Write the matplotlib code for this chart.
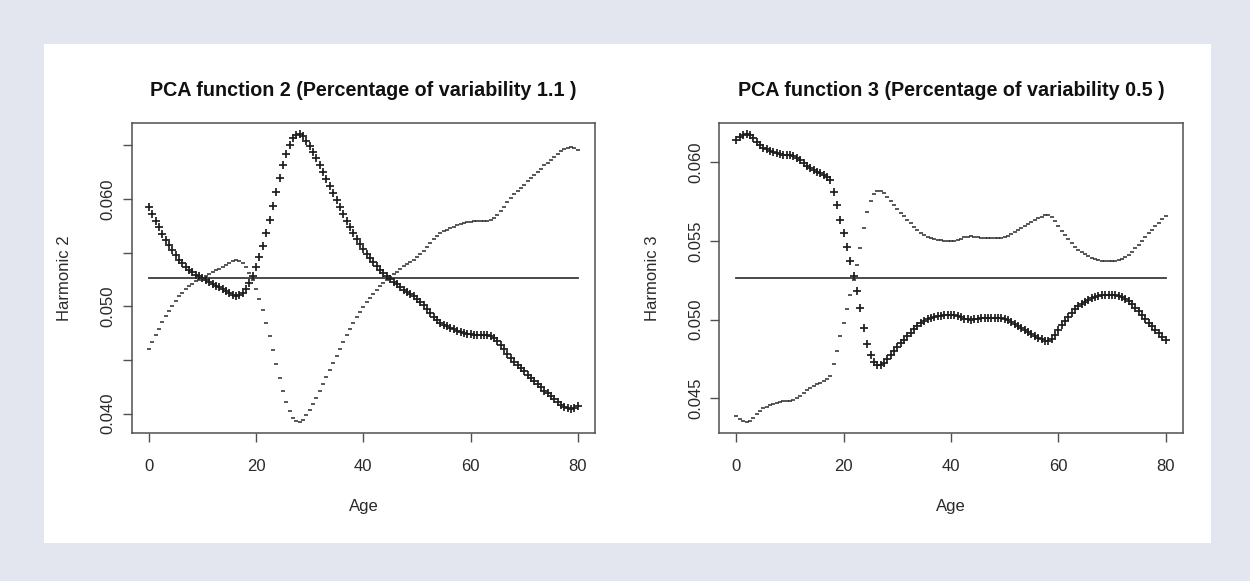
import numpy as np
import matplotlib
matplotlib.use("Agg")
from matplotlib import pyplot as plt
from matplotlib.patches import Rectangle

plt.rcParams['font.family'] = ['Liberation Sans', 'DejaVu Sans']

# age grid (129 evaluation points between 0 and 80)
ages = np.arange(129) * 0.625

mean_level = 0.05265

# harmonic perturbation (mean + harmonic), in units of 1e-3
harm2 = [
    6.65, 6.0, 5.35, 4.72, 4.12, 3.58, 3.06, 2.58, 2.12, 1.72,
    1.36, 1.04, 0.76, 0.52, 0.32, 0.14, -0.02, -0.18, -0.34, -0.52,
    -0.70, -0.88, -1.06, -1.24, -1.42, -1.58, -1.68, -1.62, -1.38, -0.98,
    -0.45, 0.2, 1.0, 1.95, 3.0, 4.15, 5.4, 6.7, 8.0, 9.3,
    10.5, 11.55, 12.4, 13.0, 13.35, 13.4, 13.2, 12.8, 12.3, 11.75,
    11.15, 10.5, 9.85, 9.2, 8.55, 7.9, 7.25, 6.6, 5.95, 5.35,
    4.75, 4.2, 3.65, 3.15, 2.7, 2.25, 1.85, 1.45, 1.1, 0.75,
    0.45, 0.15, -0.1, -0.35, -0.6, -0.85, -1.1, -1.3, -1.5, -1.7,
    -1.95, -2.2, -2.5, -2.85, -3.25, -3.6, -3.9, -4.15, -4.35, -4.5,
    -4.65, -4.78, -4.9, -5.0, -5.1, -5.18, -5.24, -5.28, -5.3, -5.3,
    -5.3, -5.32, -5.4, -5.6, -5.9, -6.25, -6.65, -7.05, -7.45, -7.8,
    -8.1, -8.4, -8.7, -9.0, -9.3, -9.6, -9.9, -10.2, -10.5, -10.75,
    -11.0, -11.3, -11.55, -11.8, -12.0, -12.15, -12.2, -12.1, -11.95,
]

harm3 = [
    8.75, 8.95, 9.1, 9.15, 9.1, 8.9, 8.68, 8.47, 8.3, 8.18,
    8.08, 8.0, 7.93, 7.88, 7.85, 7.82, 7.8, 7.75, 7.65, 7.5,
    7.32, 7.13, 6.97, 6.85, 6.75, 6.66, 6.57, 6.45, 6.22, 5.48,
    4.62, 3.7, 2.85, 1.95, 1.05, 0.12, -0.8, -1.9, -3.2, -4.2,
    -4.9, -5.35, -5.55, -5.55, -5.4, -5.15, -4.9, -4.65, -4.4, -4.15,
    -3.92, -3.7, -3.48, -3.26, -3.06, -2.88, -2.73, -2.62, -2.53, -2.46,
    -2.42, -2.39, -2.37, -2.36, -2.36, -2.38, -2.43, -2.5, -2.58, -2.64,
    -2.66, -2.64, -2.6, -2.57, -2.55, -2.54, -2.54, -2.54, -2.55, -2.57,
    -2.62, -2.7, -2.8, -2.92, -3.05, -3.18, -3.3, -3.43, -3.56, -3.68,
    -3.8, -3.9, -3.98, -3.98, -3.85, -3.6, -3.3, -3.0, -2.72, -2.45,
    -2.22, -2.0, -1.8, -1.63, -1.5, -1.38, -1.28, -1.2, -1.14, -1.1,
    -1.07, -1.06, -1.06, -1.08, -1.12, -1.2, -1.32, -1.48, -1.68, -1.9,
    -2.13, -2.36, -2.6, -2.84, -3.08, -3.3, -3.53, -3.75, -3.95,
]

titles = ["PCA function 2 (Percentage of variability 1.1 )",
          "PCA function 3 (Percentage of variability 0.5 )"]
ylabels = ["Harmonic 2", "Harmonic 3"]
xticks = [0, 20, 40, 60, 80]
yticks_l = [0.040, 0.045, 0.050, 0.055, 0.060, 0.065]
yticklabels_l = ["0.040", "", "0.050", "", "0.060", ""]
yticks_r = [0.045, 0.050, 0.055, 0.060]
yticklabels_r = ["0.045", "0.050", "0.055", "0.060"]

W, H = 1250, 581
fig = plt.figure(figsize=(12.5, 5.81), dpi=100)
fig.patch.set_facecolor('#e3e6ef')
fig.patches.append(Rectangle((44 / W, 1 - 543 / H), (1211 - 44) / W, (543 - 44) / H,
                             transform=fig.transFigure, facecolor='white',
                             edgecolor='none', zorder=-10))

boxes = [(131.7, 595.0), (719.3, 1182.7)]
top, bottom = 122.7, 433.3
ytick_sets = [(yticks_l, yticklabels_l), (yticks_r, yticklabels_r)]
axc = '#505050'

for i, (harm, (x0, x1)) in enumerate(zip([harm2, harm3], boxes)):
    ax = fig.add_axes([x0 / W, 1 - bottom / H, (x1 - x0) / W, (bottom - top) / H])
    ax.set_facecolor('none')
    d = np.array(harm) * 1e-3
    ax.plot([ages[0], ages[-1]], [mean_level, mean_level], color='#3a3a3a', lw=1.3, zorder=2)
    ax.plot(ages, mean_level + d, linestyle='None', marker='+', markersize=6.2,
            mew=1.25, color='#1e1e1e', zorder=3)
    ax.plot(ages, mean_level - d, linestyle='None', marker='_', markersize=2.4,
            mew=1.1, color='#2a2a2a', zorder=3)
    ax.margins(x=0.04, y=0.04)
    ax.set_xticks(xticks)
    ax.set_xticklabels([str(t) for t in xticks])
    yt, yl = ytick_sets[i]
    ax.set_yticks(yt)
    ax.set_yticklabels(yl, rotation=90, va='center')
    for s in ax.spines.values():
        s.set_color(axc)
        s.set_linewidth(1.1)
    ax.tick_params(axis='both', direction='out', length=6.5, width=1.0, color=axc,
                   labelsize=12, labelcolor='#2a2a2a')
    ax.tick_params(axis='x', pad=12)
    ax.tick_params(axis='y', pad=5)
    xc = (x0 + x1) / 2
    fig.text(xc / W, 1 - 90 / H, titles[i], ha='center', va='center',
             fontsize=14.2, fontweight='bold', color='#111111')
    fig.text(xc / W, 1 - 506 / H, "Age", ha='center', va='center',
             fontsize=12, color='#2a2a2a')
    fig.text((x0 - 67) / W, 1 - 278 / H, ylabels[i], ha='center', va='center',
             rotation=90, fontsize=12, color='#2a2a2a')

plt.savefig('out.png', dpi=100, facecolor=fig.get_facecolor())
